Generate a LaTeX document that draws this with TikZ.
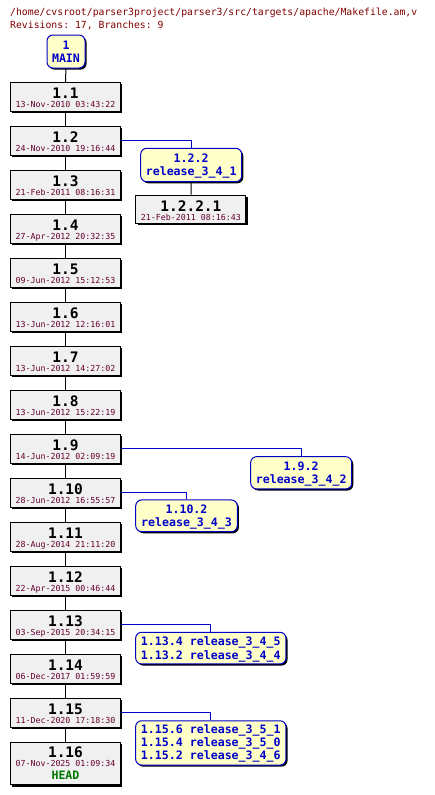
\documentclass[tikz,border=0pt]{standalone}
\usepackage{fontspec}
\setmonofont{DejaVu Sans Mono}
\usetikzlibrary{shadows}
\definecolor{hdr}{HTML}{800000}
\definecolor{dt}{HTML}{660030}
\definecolor{bl}{HTML}{0000C8}
\definecolor{yl}{HTML}{FFFFC8}
\definecolor{gr}{HTML}{F0F0F0}
\definecolor{hd}{HTML}{007800}
\tikzset{
  revbox/.style={draw=black, fill=gr, line width=1pt, minimum width=110pt, inner sep=0pt,
    drop shadow={shadow xshift=1.6pt, shadow yshift=-1.6pt, fill=black, opacity=1}},
  tagbox/.style={draw=bl, fill=yl, line width=1pt, rounded corners=6pt, inner sep=0pt,
    drop shadow={shadow xshift=1.6pt, shadow yshift=-1.6pt, fill=black, opacity=1}},
  vertext/.style={anchor=base, inner sep=0pt, font=\ttfamily\bfseries\fontsize{14.5}{14.5}\selectfont},
  datetext/.style={anchor=base, inner sep=0pt, text=dt, font=\ttfamily\fontsize{8.3}{8.3}\selectfont},
  tagtext/.style={anchor=base, inner sep=0pt, text=bl, font=\ttfamily\bfseries\fontsize{11.6}{11.6}\selectfont},
  hdrtext/.style={anchor=base west, inner sep=0pt, text=hdr, font=\ttfamily\fontsize{9.8}{9.8}\selectfont},
  trunk/.style={draw=black, line width=1pt},
  branch/.style={draw=bl, line width=1pt},
}
\newcommand{\revnode}[4]{%
  \node[revbox, minimum height=29pt] (#1) at (65.5,#2+14.5) {};
  \node[vertext] at (65.5,#2+16.3) {#3};
  \node[datetext] at (65.5,#2+24.8) {#4};
}
\begin{document}
\begin{tikzpicture}[x=1pt,y=-1pt]
\useasboundingbox (0,0) rectangle (434,795);
\node[hdrtext] (h1) at (10,16) {/home/cvsroot/parser3project/parser3/src/targets/apache/Makefile.am,v};
\node[hdrtext] (h2) at (10,28.3) {Revisions: 17, Branches: 9};

% MAIN
\node[tagbox, minimum width=38pt, minimum height=33pt] (main) at (66,51.5) {};
\node[tagtext] at (66,49.3) {1};
\node[tagtext] at (66,62.3) {MAIN};

\revnode{r1}{82.3}{1.1}{13-Nov-2010 03:43:22}
\revnode{r2}{126.3}{1.2}{24-Nov-2010 19:16:44}
\revnode{r3}{170.3}{1.3}{21-Feb-2011 08:16:31}
\revnode{r4}{214.3}{1.4}{27-Apr-2012 20:32:35}
\revnode{r5}{258.3}{1.5}{09-Jun-2012 15:12:53}
\revnode{r6}{302.3}{1.6}{13-Jun-2012 12:16:01}
\revnode{r7}{346.3}{1.7}{13-Jun-2012 14:27:02}
\revnode{r8}{390.3}{1.8}{13-Jun-2012 15:22:19}
\revnode{r9}{434.3}{1.9}{14-Jun-2012 02:09:19}
\revnode{r10}{478.3}{1.10}{28-Jun-2012 16:55:57}
\revnode{r11}{522.3}{1.11}{28-Aug-2014 21:11:20}
\revnode{r12}{566.3}{1.12}{22-Apr-2015 00:46:44}
\revnode{r13}{610.3}{1.13}{03-Sep-2015 20:34:15}
\revnode{r14}{654.3}{1.14}{06-Dec-2017 01:59:59}
\revnode{r15}{698.3}{1.15}{11-Dec-2020 17:18:30}
% 1.16 with HEAD
\node[revbox, minimum height=42.7pt] (r16) at (65.5,763.6) {};
\node[vertext] at (65.5,757.3) {1.16};
\node[datetext] at (65.5,766.8) {07-Nov-2025 01:09:34};
\node[anchor=base, inner sep=0pt, text=hd, font=\ttfamily\bfseries\fontsize{11.6}{11.6}\selectfont] at (65.5,779) {HEAD};

% trunk connectors
\draw[trunk] (main) -- (r1);
\foreach \a/\b in {r1/r2,r2/r3,r3/r4,r4/r5,r5/r6,r6/r7,r7/r8,r8/r9,r9/r10,r10/r11,r11/r12,r12/r13,r13/r14,r14/r15,r15/r16}
  \draw[trunk] (\a) -- (\b);

% branch 1.2.2
\node[tagbox, minimum width=101pt, minimum height=33.4pt] (b122) at (191.2,165) {};
\node[tagtext] at (191.2,162.3) {1.2.2};
\node[tagtext] at (191.2,175.3) {release\_3\_4\_1};
\node[revbox, minimum width=110pt, minimum height=28.3pt] (r1221) at (190.9,209.2) {};
\node[vertext] at (190.9,211) {1.2.2.1};
\node[datetext] at (190.9,220) {21-Feb-2011 08:16:43};
\draw[branch] (r2.east |- 0,140.7) -| (b122.north);
\draw[trunk] (b122) -- (r1221);

% branch 1.9.2
\node[tagbox, minimum width=101pt, minimum height=32.3pt] (b92) at (301.2,472.8) {};
\node[tagtext] at (301.2,470.3) {1.9.2};
\node[tagtext] at (301.2,483.3) {release\_3\_4\_2};
\draw[branch] (r9.east |- 0,448.3) -| (b92.north);

% branch 1.10.2
\node[tagbox, minimum width=101.6pt, minimum height=31.7pt] (b102) at (186.5,515.8) {};
\node[tagtext] at (186.5,513.5) {1.10.2};
\node[tagtext] at (186.5,526.5) {release\_3\_4\_3};
\draw[branch] (r10.east |- 0,492.3) -| (b102.north);

% branch 1.13
\node[tagbox, minimum width=150.3pt, minimum height=31.7pt] (b13) at (210.8,648.1) {};
\node[tagtext] at (210.8,645.7) {1.13.4 release\_3\_4\_5};
\node[tagtext] at (210.8,659) {1.13.2 release\_3\_4\_4};
\draw[branch] (r13.east |- 0,624.3) -| (b13.north);

% branch 1.15
\node[tagbox, minimum width=150.3pt, minimum height=44.3pt] (b15) at (210.8,742.9) {};
\node[tagtext] at (210.8,733.7) {1.15.6 release\_3\_5\_1};
\node[tagtext] at (210.8,746.7) {1.15.4 release\_3\_5\_0};
\node[tagtext] at (210.8,759.5) {1.15.2 release\_3\_4\_6};
\draw[branch] (r15.east |- 0,712.3) -| (b15.north);
\end{tikzpicture}
\end{document}
